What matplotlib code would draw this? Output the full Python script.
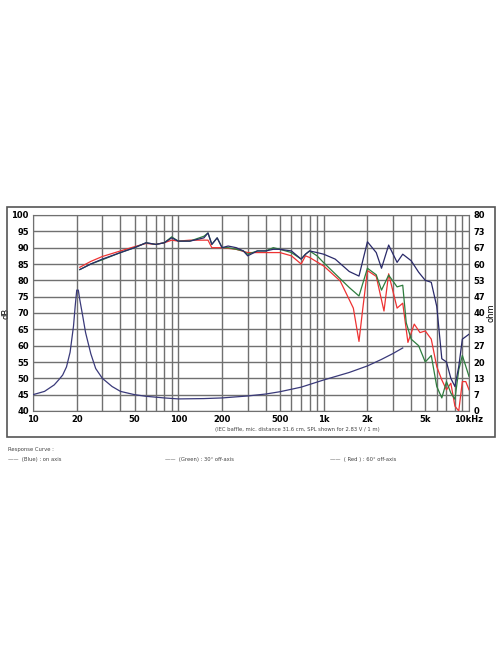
import matplotlib
matplotlib.use("Agg")
import matplotlib.pyplot as plt
from matplotlib.patches import Rectangle
import numpy as np

blue_f = [21,25,30,40,50,60,70,80,90,100,120,150,160,170,185,200,220,250,280,300,350,400,450,500,600,700,750,800,900,1000,1200,1500,1750,2000,2300,2500,2800,3200,3500,4000,4500,5000,5500,6000,6500,7000,7500,8000,8500,9000,10000]
blue_db = [83.3,85,86.5,88.5,90,91.5,91,91.5,93,92,92,93,94.5,91,93,90,90.5,90,89,87.5,89,89,89.5,89.5,89,86.5,88,89,88.5,88,86.5,82.7,81.3,91.8,88.5,83.7,90.8,85.5,88,86,82.5,80,79.4,72,56,55,50,47.5,53.6,62,63.5]
green_f = [21,25,30,40,50,60,70,80,90,100,120,150,160,170,185,200,220,250,280,300,350,400,450,500,600,700,750,800,900,1000,1500,1750,2000,2300,2500,2800,3200,3500,3700,4000,4500,5000,5500,6000,6500,7000,7500,8000,8500,9000,10000]
green_db = [83.3,85,86.3,88.5,90,91.5,91,91.5,93.3,92,92,93.5,94.5,91,93,90,90,89.5,89,88,89,89,90,89.5,88.5,86.5,88,89,87.5,85.4,77.8,75.2,83.7,81.7,77,81.6,78,78.5,67,62,60,55,57,47.5,44,49,45.5,43.6,52.6,57,50.6]
red_f = [21,25,30,40,50,60,70,80,90,100,120,150,160,170,200,250,300,350,400,500,600,700,750,800,1000,1300,1600,1750,1850,2000,2300,2600,2800,3200,3500,3800,4200,4600,5000,5500,6000,6500,7000,7500,8000,8500,9000,9500,10000]
red_db = [84,85.8,87.3,89,90.3,91.3,91,91.5,92.3,92,92.3,92.3,92.3,90,90,89.5,88.5,88.5,88.5,88.5,87.5,85,87.5,87,84.4,79.8,71.5,61.3,70.6,83,81.2,70.6,82,71.5,73,61,66.6,64,64.5,62,53.6,49.5,46.5,48.5,41.5,40,49,49,46.5]
imp_f = [10,12,14,15,16,17,18,19,19.5,20,20.5,21,22,23,25,27,30,35,40,50,60,80,100,150,200,300,400,500,700,1000,1500,2000,2500,3000,3500]
imp_db = [45,46,48,49.5,51,53.5,58,66,72,77,77,74,69,64,57.5,53,50,47.5,46,45,44.5,44,43.7,43.8,44,44.6,45.2,45.9,47.3,49.5,51.8,53.8,55.8,57.6,59.3]

xticks = [10,20,50,100,200,500,1000,2000,5000,10000]
xlabels = ["10","20","50","100","200","500","1k","2k","5k","10kHz"]
ohm_labels = ["0","7","13","20","27","33","40","47","53","60","67","73","80"]

fig = plt.figure(figsize=(4.96,6.64), dpi=100)
fig.patches.append(Rectangle((7/496,1-437/664),488/496,230/664,transform=fig.transFigure,fill=False,edgecolor="#555555",lw=1.2))
ax = fig.add_axes([33/496, 1-411/664, 436/496, 196/664])
ax.set_xscale("log")
ax.set_xlim(10,10000); ax.set_ylim(40,100)
grid = [f*m for m in (10,100,1000) for f in range(1,10)]+[10000]
for g in grid:
    ax.axvline(g,color="#707070",lw=1.0,zorder=1)
for y in range(40,101,5):
    ax.axhline(y,color="#707070",lw=1.0,zorder=1)
ax.plot(imp_f,imp_db,color="#3a3a7a",lw=0.9,zorder=3)
ax.plot(red_f,red_db,color="#ee3333",lw=0.9,zorder=3)
ax.plot(green_f,green_db,color="#2e7d3e",lw=0.9,zorder=4)
ax.plot(blue_f,blue_db,color="#2a2a6a",lw=0.9,zorder=5)
ax.set_xticks(xticks); ax.set_xticklabels(xlabels,fontsize=6,fontweight="bold")
ax.minorticks_off()
ax.set_yticks(range(40,101,5)); ax.set_yticklabels([str(v) for v in range(40,101,5)],fontsize=6,fontweight="bold")
ax.tick_params(length=0,pad=3)
ax.set_ylabel("dB",fontsize=6,labelpad=1)
for s in ax.spines.values(): s.set_color("#707070")
ax2 = ax.twinx()
ax2.set_ylim(40,100)
ax2.set_yticks(np.linspace(40,100,13)); ax2.set_yticklabels(ohm_labels,fontsize=6,fontweight="bold")
ax2.tick_params(length=0,pad=3)
ax2.set_ylabel("ohm",fontsize=6,labelpad=1)
for s in ax2.spines.values(): s.set_visible(False)
fig.text(0.5+0.1,1-430/664,"(IEC baffle, mic. distance 31.6 cm, SPL shown for 2.83 V / 1 m)",fontsize=3.8,ha="center",va="center",color="#444444")
fig.text(8/496,1-449/664,"Response Curve :",fontsize=3.8,color="#444444",va="center")
fig.text(8/496,1-460/664,"——  (Blue) : on axis",fontsize=3.8,color="#444444",va="center")
fig.text(165/496,1-460/664,"——  (Green) : 30° off-axis",fontsize=3.8,color="#444444",va="center")
fig.text(330/496,1-460/664,"——  ( Red ) : 60° off-axis",fontsize=3.8,color="#444444",va="center")
fig.savefig("out.png",dpi=100)
